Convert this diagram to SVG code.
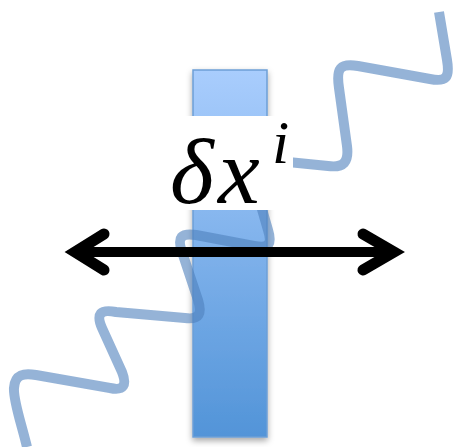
<svg xmlns="http://www.w3.org/2000/svg" width="458" height="447" viewBox="0 0 458 447">
  <defs>
    <linearGradient id="barGrad" x1="0" y1="0" x2="0" y2="1">
      <stop offset="0" stop-color="#a9cdfd"/>
      <stop offset="1" stop-color="#5294d8"/>
    </linearGradient>
    <filter id="shadow" x="-30%" y="-10%" width="160%" height="120%">
      <feDropShadow dx="0" dy="3" stdDeviation="3" flood-color="#000" flood-opacity="0.35"/>
    </filter>
    <style>
      .wave { fill: none; stroke: #4f81bd; stroke-opacity: 0.6; stroke-width: 10; stroke-linecap: butt; stroke-linejoin: round; }
      .arrow { fill: none; stroke: #000; stroke-width: 10; }
      .head { fill: none; stroke: #000; stroke-width: 11; stroke-linecap: round; stroke-linejoin: miter; stroke-miterlimit: 10; }
      .label { font-family: "Liberation Serif", "DejaVu Serif", serif; font-style: italic; fill: #000; }
    </style>
  </defs>
  <rect width="458" height="447" fill="#ffffff"/>

  <g id="bar">
    <rect x="193" y="70" width="74" height="367" fill="url(#barGrad)" stroke="#6c9fd6" stroke-width="1.5" filter="url(#shadow)"/>
  </g>

  <g id="wave">
    <path class="wave" d="M 27 447
      C 21 422, 13 400, 14 388
      C 15 374, 24 373, 36 375
      L 110 388
      C 124 391, 127 385, 122 372
      L 102 328
      C 96 314, 100 309, 116 312
      L 185 318
      C 200 320, 202 313, 198 300
      L 182 252
      C 177 237, 181 233, 196 235
      L 254 246
      C 270 249, 272 243, 268 230
      L 253 178
      C 249 162, 253 158, 268 160
      L 328 166
      C 344 168, 349 162, 347 146
      L 339 88
      C 336 68, 340 63, 358 66
      L 430 79
      C 446 82, 450 78, 447 60
      L 439 12"/>
  </g>

  <g id="label">
    <rect x="165" y="116" width="128" height="94" fill="#ffffff"/>
    <text class="label" x="170" y="203" font-size="94">δ</text>
    <text class="label" x="218" y="203" font-size="94">x</text>
    <text class="label" x="272" y="163" font-size="62">i</text>
  </g>

  <g id="connectors">
    <line class="arrow" x1="75" y1="252" x2="395" y2="252"/>
    <polyline class="head" points="104,234 75,252 104,270"/>
    <polyline class="head" points="363,234 394,252 363,270"/>
  </g>
</svg>
